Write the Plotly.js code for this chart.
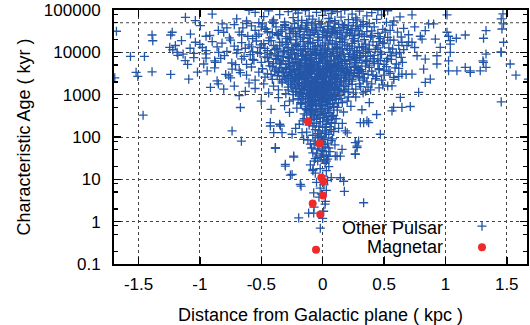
<!DOCTYPE html>
<html>
<head>
<meta charset="utf-8">
<script src="https://cdn.plot.ly/plotly-3.0.1.min.js"></script>
<style>
html,body{margin:0;padding:0;background:#fff;}
#chart{width:530px;height:325px;}
</style>
</head>
<body>
<div id="chart"></div>
<script>
// ---------------- DATA ----------------
// Magnetars: distance from Galactic plane (kpc) and characteristic age (kyr)
const magnetarZ   = [-0.119, -0.024, -0.011, 0.006, 0.003, -0.081, -0.019, -0.054];
const magnetarAge = [232, 70, 11, 9, 4.15, 2.7, 1.47, 0.218];

// Other pulsars: sparse outer left region
const outerLeftZ   = [-1.68,-1.694,-1.566,-1.452,-1.52,-1.506,-1.463,-1.39,-1.384,-1.39,-1.238,-1.246,-1.221,-1.186,-1.238,-1.118,-1.037,-1.226,-1.137,-1.091,-1.037,-1.077,-0.996,-0.969,-0.941,-0.874,-0.86,-0.914,-0.806,-0.765,-0.738,-0.819,-0.806,-0.847,-0.67,-0.738,-0.662,-0.385,-0.304,-0.236,-0.426,-0.344,
  -1.18,-1.1,-1.02,-0.98,-0.92,-0.88,-0.83,-0.79,-0.76,-0.71,-0.67,-0.64,-0.6,-0.57,-0.85,-0.72,-0.63,-0.68,-1.2,-1.12,-1.05,-0.95];
const outerLeftAge = [31500,2500,8000,8000,3360,2700,327,25700,18800,3470,25700,13100,11500,10000,3000,67000,56000,29800,9100,2330,17300,27000,42700,5300,3660,5800,2120,1480,1350,2790,4020,46800,29800,10000,498,139,80,56,22.5,35.5,182,182,
  8500,5200,3400,13000,25000,4300,7200,3000,22000,5100,3300,8000,1900,6800,1800,1600,1200,950,14500,6400,9500,7300];

// Other pulsars: sparse outer right region
const outerRightZ   = [0.728,1.013,1.469,1.455,1.461,1.474,1.455,1.331,1.311,1.331,1.311,1.331,1.284,1.528,1.575,1.677,1.455,1.162,1.089,1.026,1.04,1.04,1.026,1.026,1.094,1.162,1.203,0.958,0.931,0.931,0.877,0.918,0.836,0.863,0.904,0.796,0.81,0.728,0.687,0.646,0.627,0.769,0.836,0.823,0.728,0.646,0.578,0.565,0.782,0.836,0.633,0.578,0.714,0.646,0.565,0.47,0.334,0.375,0.293,0.28,0.266,0.185,0.144,
  1.013,1.04,1.474,1.453,1.306,1.203,0.35,0.42,0.47,0.52,0.38,0.44,0.49,0.55,0.6,0.4,0.46,0.51,0.33,0.37,0.53,0.57];
const outerRightAge = [76600,76600,81000,61500,35600,17300,10000,32500,21500,9100,5800,4400,3660,5300,2900,2330,675,25700,21500,24000,15700,10000,6300,3660,3660,4400,3360,13100,8300,5300,2330,20600,32500,46800,46800,24000,20600,17300,14500,17300,10000,8300,6900,4020,3060,3060,2560,1620,1130,1950,860,500,525,500,413,116,219,219,80,56,39,139,35.5,
  29800,19000,46800,10200,6300,3660,12000,8500,6400,4600,5000,2700,1700,3200,9200,25000,18000,30000,3200,1500,7200,12000];

// Other pulsars: oldest band (50 000 - 100 000 kyr)
const topZ   = [-0.70,-0.62,-0.55,-0.48,-0.44,-0.40,-0.35,-0.31,-0.28,-0.24,-0.20,-0.17,-0.14,-0.11,-0.08,-0.05,-0.03,0.0,0.02,0.05,0.07,0.10,0.12,0.15,0.18,0.21,0.24,0.27,0.30,0.33,0.36,0.40,0.44,0.48,0.53,0.58,0.63,-0.60,-0.90,-0.52,0.08,-0.22,0.45,-0.13,0.25];
const topAge = [62000,55000,88000,70000,95000,58000,78000,52000,92000,66000,85000,57000,97000,72000,61000,88000,54000,75000,96000,63000,83000,56000,91000,68000,99000,59000,80000,65000,94000,53000,73000,87000,60000,77000,96000,55000,69000,98000,80000,50000,99000,99000,99000,51000,50500];

// Other pulsars: 20 000 - 50 000 kyr
const upperZ   = [-0.72,-0.68,-0.65,-0.61,-0.58,-0.55,-0.52,-0.49,-0.46,-0.43,-0.41,-0.38,-0.36,-0.33,-0.31,-0.29,-0.27,-0.25,-0.23,-0.21,-0.19,-0.17,-0.15,-0.13,-0.11,-0.09,-0.07,-0.05,-0.03,-0.01,0.01,0.03,0.05,0.07,0.09,0.11,0.13,0.15,0.17,0.19,0.21,0.23,0.25,0.27,0.30,0.33,0.36,0.39,0.42,0.45,0.49,0.53,0.57,0.61,0.66,0.70,-0.85,-0.95,-0.78,-0.62,-0.12,0.10,0.38,-0.4,0.75,-0.57,-0.08,0.04,-0.18,0.2,-0.3,0.28];
const upperAge = [45000,30000,38000,24000,42000,33000,27000,47000,36000,22000,29000,40000,25000,34000,45000,21000,28000,37000,48000,24000,31000,42000,26000,35000,21500,44000,29000,38000,23000,47000,32000,25000,41000,28000,36000,22000,46000,30000,39000,25500,43000,33000,21000,37000,27000,45000,31000,23000,40000,28000,35000,22500,44000,30000,37000,26000,33000,24000,38000,48000,49000,49000,48000,48500,40000,21000,33000,35500,36000,29000,39000,42000];

// Other pulsars: 10 000 - 20 000 kyr
const band4Z   = [-1.15,-1.08,-1.0,-0.95,-0.9,-0.86,-0.82,-0.78,-0.75,-0.72,-0.69,-0.66,-0.63,-0.6,-0.57,-0.54,-0.51,-0.48,-0.45,-0.42,-0.40,-0.37,-0.35,-0.32,-0.30,-0.28,-0.26,-0.24,-0.22,-0.20,-0.18,-0.16,-0.14,-0.12,-0.10,-0.08,-0.06,-0.04,-0.02,0.0,0.02,0.04,0.06,0.08,0.10,0.12,0.14,0.16,0.18,0.20,0.22,0.24,0.26,0.29,0.32,0.35,0.38,0.41,0.44,0.47,0.50,0.54,0.58,0.62,0.66,0.70,0.75,0.55,-0.05];
const band4Age = [19000,12500,15500,11000,18000,13500,16500,10500,19500,14000,11500,17000,12500,15000,10200,18500,13000,16000,11000,19000,14500,12000,17500,10500,15500,13000,19800,11500,16500,13800,10800,18200,12200,15800,10400,17200,13400,19200,11200,14800,16800,12000,18800,10600,15200,13200,17800,11400,19600,14200,12400,16200,10900,18400,13600,15600,11800,17600,14400,10300,16600,12800,19400,14600,11600,17400,13000,10000,10100];

// Other pulsars: 5 000 - 10 000 kyr
const band3Z   = [-1.05,-0.95,-0.88,-0.8,-0.74,-0.70,-0.66,-0.62,-0.59,-0.56,-0.53,-0.50,-0.47,-0.44,-0.42,-0.40,-0.38,-0.36,-0.34,-0.32,-0.30,-0.28,-0.26,-0.24,-0.22,-0.20,-0.19,-0.17,-0.15,-0.14,-0.12,-0.11,-0.09,-0.08,-0.06,-0.05,-0.03,-0.02,0.0,0.01,0.03,0.04,0.06,0.07,0.09,0.10,0.12,0.14,0.15,0.17,0.19,0.21,0.23,0.25,0.27,0.30,0.33,0.36,0.39,0.42,0.45,0.48,0.52,0.56,0.60,0.64,-0.25,-0.13,0.02,0.11,-0.07,0.18,-0.35,0.28];
const band3Age = [7500,9200,6300,8400,5600,9600,7000,5200,8800,6500,9900,5800,7800,6000,9300,5400,7200,8600,6200,9700,5100,7600,8900,5700,6800,9400,5300,8100,6600,9000,5500,7400,8500,6100,9800,5900,7100,8300,6400,9100,5600,7700,8700,6300,9500,5200,7300,8200,6000,9200,5400,7900,6700,8800,5800,7500,9400,6100,8000,5500,7000,9000,6200,8300,5300,7600,7300,7700,6900,8100,5200,6500,5600,9900];

// Other pulsars: 2 000 - 5 000 kyr
const band2Z   = [-0.75,-0.68,-0.62,-0.58,-0.55,-0.52,-0.49,-0.47,-0.45,-0.43,-0.41,-0.39,-0.37,-0.35,-0.33,-0.32,-0.30,-0.29,-0.27,-0.26,-0.24,-0.23,-0.21,-0.20,-0.19,-0.17,-0.16,-0.15,-0.14,-0.13,-0.12,-0.11,-0.10,-0.09,-0.08,-0.07,-0.06,-0.05,-0.04,-0.03,-0.02,-0.01,0.0,0.01,0.02,0.03,0.04,0.05,0.06,0.07,0.08,0.09,0.10,0.11,0.12,0.13,0.14,0.15,0.16,0.18,0.19,0.20,0.22,0.23,0.25,0.26,0.28,0.30,0.31,0.33,0.35,0.37,0.40,0.43,0.46,0.50,0.54,0.58,0.62,0.68,-0.25,-0.18,-0.12,-0.06,0.0,0.05,0.10,0.17,-0.22,-0.09,0.08,0.21,-0.36,0.29,-0.03,0.03,-0.15,0.13,-0.28,0.24];
const band2Age = [2500,3800,2900,4500,2200,3400,4100,2600,3100,4800,2300,3600,2800,4300,2100,3300,3900,2500,4600,3000,2200,3700,4200,2700,3200,4900,2400,3500,4000,2900,2100,4400,3300,2600,3800,4700,2300,3100,4100,2800,3600,2000,4500,3000,2500,3900,4800,2200,3400,2700,4200,3200,2400,3700,4600,2900,2100,3500,4300,2600,3100,4000,2300,3800,2800,4400,3300,2500,3900,2200,4700,3000,3600,2400,4100,2900,3500,2300,4200,3000,3500,2900,3900,2600,3300,4000,2900,3600,2500,4600,2100,3300,3300,4100,2300,3600,2300,4100,2800,2300];

// Other pulsars: 1 000 - 2 000 kyr
const band1Z   = [-0.55,-0.48,-0.44,-0.40,-0.36,-0.33,-0.30,-0.28,-0.26,-0.24,-0.22,-0.20,-0.18,-0.17,-0.15,-0.14,-0.12,-0.11,-0.10,-0.08,-0.07,-0.06,-0.05,-0.04,-0.03,-0.02,-0.01,0.0,0.01,0.02,0.03,0.04,0.05,0.06,0.07,0.08,0.09,0.10,0.12,0.13,0.15,0.17,0.19,0.21,0.24,0.27,0.31,0.35,0.40,0.46,-0.09,0.04,-0.16,0.11,-0.01];
const band1Age = [1400,1800,1100,1600,1300,1900,1050,1500,1750,1200,1400,1950,1100,1650,1300,1850,1000,1550,1250,1700,1150,1450,1900,1050,1600,1350,1800,1200,1500,1950,1100,1650,1300,1850,1000,1550,1250,1750,1400,1100,1900,1300,1600,1150,1750,1350,1550,1200,1800,1450,1450,1400,1500,1600,1050];

// Other pulsars: 300 - 1 000 kyr
const band0Z   = [-0.50,-0.42,-0.36,-0.31,-0.27,-0.24,-0.21,-0.19,-0.17,-0.15,-0.14,-0.12,-0.11,-0.10,-0.09,-0.08,-0.07,-0.06,-0.05,-0.04,-0.03,-0.02,-0.01,0.0,0.01,0.02,0.03,0.04,0.05,0.06,0.07,0.08,0.09,0.10,0.12,0.13,0.15,0.17,0.20,0.23,0.27,0.32,0.38,0.44,-0.08,0.02,-0.13];
const band0Age = [700,450,850,550,380,750,480,920,620,350,800,520,680,420,950,580,330,720,460,860,600,400,780,540,990,360,660,470,830,590,310,740,500,900,430,640,820,390,700,530,880,440,650,340,870,830,440];

// Other pulsars: extra points filling the dense central cone
const coreZ = [-0.37,-0.34,-0.3,-0.26,-0.22,-0.2,-0.16,-0.12,-0.1,-0.06,-0.04,-0.02,0.0,0.02,0.04,0.06,0.08,0.1,0.12,0.14,0.16,0.18,0.22,0.24,0.26,0.29,0.31,0.34,-0.45,-0.5,0.47,0.55,-0.66,0.64,
  -0.39,-0.37,-0.35,-0.33,-0.31,-0.29,-0.27,-0.25,-0.23,-0.21,-0.2,-0.18,-0.16,-0.15,-0.13,-0.12,-0.1,-0.09,-0.07,-0.06,-0.04,-0.03,-0.01,0.0,0.02,0.03,0.05,0.06,0.08,0.09,0.11,0.13,0.14,0.16,0.18,0.2,0.22,0.24,0.26,0.28,0.31,0.33,-0.43,-0.47,0.37,0.41,-0.51,0.45,-0.28,0.12,
  -0.31,-0.3,-0.28,-0.27,-0.25,-0.24,-0.23,-0.22,-0.21,-0.2,-0.19,-0.18,-0.17,-0.16,-0.15,-0.14,-0.13,-0.12,-0.11,-0.1,-0.09,-0.08,-0.07,-0.06,-0.05,-0.04,-0.03,-0.02,-0.01,0.0,0.0,0.01,0.02,0.03,0.04,0.05,0.06,0.07,0.08,0.09,0.1,0.11,0.12,0.13,0.14,0.15,0.16,0.17,0.18,0.19,0.2,0.21,0.22,0.23,0.24,0.26,0.27,-0.33,-0.35,-0.38,0.29,0.32,-0.42,0.36,-0.02,0.06,-0.1,-0.19,0.14,-0.26,
  -0.21,-0.2,-0.19,-0.18,-0.17,-0.16,-0.15,-0.14,-0.13,-0.12,-0.11,-0.1,-0.09,-0.09,-0.08,-0.07,-0.06,-0.05,-0.05,-0.04,-0.03,-0.02,-0.02,-0.01,0.0,0.0,0.01,0.02,0.03,0.04,0.05,0.06,0.07,0.08,0.09,0.1,0.11,0.12,0.14,0.16,0.18,0.21,-0.24,-0.27,0.25,
  -0.13,-0.11,-0.1,-0.09,-0.08,-0.07,-0.06,-0.05,-0.04,-0.03,-0.02,-0.01,0.0,0.01,0.02,0.03,0.04,0.05,0.06,0.07,0.09,-0.15,0.1,-0.02,0.03,
  -0.08,-0.06,-0.04,-0.03,-0.01,0.0,0.01,0.02,0.04,0.05,-0.1,0.07];
const coreAge = [26000,31000,23500,34000,27500,39000,22500,30500,25000,33500,26500,39500,22000,29500,41000,24500,31500,38500,27000,33000,23000,44000,28500,36000,25000,32000,40500,24000,31000,40000,21000,33000,26000,23000,
  11500,8200,14200,6400,10800,17300,7100,12600,9100,15400,6000,11200,8500,13800,7000,10500,16400,6700,12000,8800,14600,5600,10000,7700,12800,9300,15800,6200,11700,8100,13500,7300,10300,17000,6800,12300,9000,14000,7400,11000,8300,13300,8700,12400,10600,7100,9400,12700,5400,5500,
  2700,4200,1900,3400,2400,4700,1700,3000,2200,3800,1600,4400,2600,3300,1800,2900,4500,2400,3600,1700,3100,2200,4000,1900,3500,2600,4800,1600,3000,2300,3900,1800,3300,2600,4300,1700,2900,3700,2300,4900,1900,3100,2500,3500,1700,2800,4100,2100,3400,2500,4500,1800,2900,3700,2100,3200,4800,3600,2300,4000,2700,3500,3000,2000,2800,4600,4800,2800,4900,3900,
  1200,800,1400,650,1050,900,1250,600,1100,750,1350,950,550,1150,700,1300,850,1050,620,1450,780,1100,560,930,1350,680,1150,820,1400,600,1000,730,1250,880,530,1100,770,1300,950,650,1200,880,1000,700,1100,
  330,420,250,370,180,300,450,210,340,140,280,400,230,350,170,310,480,260,380,150,320,270,210,120,125,
  42,80,52,100,36,66,45,95,30,55,68,82];

// Other pulsars: second set of points in the dense central cone and right-hand cluster
const coreBZ = [-0.18,-0.16,-0.14,-0.12,-0.1,-0.08,-0.07,-0.05,-0.04,-0.02,-0.01,0.01,0.02,0.04,0.05,0.07,0.08,0.1,0.12,-0.03,
  -0.28,-0.26,-0.25,-0.23,-0.22,-0.2,-0.19,-0.17,-0.16,-0.14,-0.13,-0.12,-0.11,-0.1,-0.09,-0.08,-0.07,-0.06,-0.05,-0.04,-0.03,-0.02,-0.01,0.0,0.01,0.02,0.03,0.04,0.05,0.06,0.07,0.08,0.1,0.11,0.13,0.15,0.17,0.19,0.21,-0.3,
  -0.41,-0.38,-0.36,-0.34,-0.32,-0.3,-0.28,-0.26,-0.25,-0.23,-0.21,-0.2,-0.18,-0.17,-0.15,-0.14,-0.12,-0.11,-0.1,-0.08,-0.07,-0.05,-0.04,-0.02,-0.01,0.01,0.02,0.04,0.05,0.07,0.08,0.1,0.11,0.13,0.15,0.16,0.18,0.2,0.22,0.24,0.26,0.28,0.3,0.32,0.35,0.38,0.42,0.46,-0.45,0.5,
  -0.54,-0.5,-0.47,-0.44,-0.41,-0.38,-0.36,-0.33,-0.31,-0.29,-0.27,-0.24,-0.22,-0.2,-0.18,-0.16,-0.14,-0.12,-0.1,-0.08,-0.06,-0.04,-0.02,0.0,0.02,0.04,0.06,0.08,0.1,0.12,0.14,0.16,0.18,0.2,0.22,0.24,0.26,0.28,0.3,0.32,0.34,0.36,0.38,0.4,0.43,0.46,0.49,0.52,0.55,-0.58,
  0.3,0.34,0.36,0.39,0.41,0.45,0.48,0.5,0.53,0.56,0.59,0.62,0.65,0.27,0.33];
const coreBAge = [600,820,470,900,640,410,760,540,980,690,450,850,580,720,430,960,610,790,500,330,
  1300,2100,1600,2700,1150,1800,2400,1350,2900,1600,2000,1250,2600,1500,2150,1050,1750,2450,1300,2000,1550,2750,1200,1900,2500,1400,2100,1150,1700,2600,1350,1950,1500,2300,1250,2050,1600,2500,1350,2350,
  4600,6800,3600,5300,8000,4400,6200,3300,9000,5000,7000,3900,5600,8300,4700,6500,3400,5200,7600,4300,6000,9300,3700,5500,7300,4100,6300,3500,5100,8000,4500,6600,3800,5700,8700,4200,6100,3500,5300,7800,4600,6500,3700,5600,8200,4400,6000,3900,7500,5200,
  24000,15000,35000,19000,52000,12500,28000,17000,43000,11000,22000,31000,14500,56000,20500,12000,38000,17500,26000,11500,47000,19500,14000,32000,10800,23000,54000,16500,29000,12300,21000,45000,15000,35000,11200,25000,18500,58000,13000,27000,20000,41000,14800,32000,11800,23500,16000,51000,19500,13500,
  1800,2500,6500,1300,2900,5400,2200,3800,1600,6800,4300,2700,5800,7200,1100];

// Other pulsars: young tail (below 300 kyr)
const tailZ   = [-0.22,-0.16,-0.13,-0.11,-0.09,-0.08,-0.07,-0.06,-0.05,-0.04,-0.03,-0.02,-0.01,0.0,0.01,0.02,0.03,0.04,0.05,0.06,0.07,0.09,0.11,0.13,0.16,0.20,-0.19,0.08,
  -0.12,-0.09,-0.07,-0.05,-0.04,-0.03,-0.02,-0.01,0.0,0.01,0.02,0.03,0.04,0.06,0.08,0.10,-0.06,0.05,
  -0.10,-0.06,-0.04,-0.02,0.0,0.02,0.03,0.05,0.07,-0.08,0.01,
  -0.05,-0.02,0.01,0.03,-0.03,0.02,-0.01,0.04,-0.07,0.0,
  -0.385,-0.236,-0.304,-0.263,-0.176,-0.078,-0.068,0.03,0.117,0.144,0.177,0.171,0.334,0.266,0.28,0.266,0.307,0.361,-0.426,-0.35,-0.331,-0.249,-0.168,-0.155,-0.399,0.103,0.158,-0.019,-0.114,-0.073,-0.195,-0.182,-0.249,-0.073,0.022,0.008];
const tailAge = [160,240,130,190,280,110,210,150,260,120,180,230,105,170,290,140,200,250,115,175,220,135,270,160,210,125,200,300,
  85,55,70,40,95,62,33,78,48,88,58,38,72,45,90,65,31,35,
  22,14,27,18,12,24,16,20,11,16,29,
  8.5,6.2,7.4,5.5,3.8,2.6,4.5,9.5,2.2,1.2,
  54,33.6,20.6,12.6,6.9,17.2,27,27,35.5,10.9,5.2,9,2.8,74,61,40,219,240,219,200,127,116,127,88,127,35.5,51,0.7,1.6,1.6,1.23,7.6,13,4.8,3.0,1.76];

// Axis tick labels
const xTickVals = [-1.5, -1, -0.5, 0, 0.5, 1, 1.5];
const xTickText = ['-1.5', '-1', '-0.5', '0', '0.5', '1', '1.5'];
const yTickVals = [0.1, 1, 10, 100, 1000, 10000, 100000];
const yTickText = ['0.1', '1', '10', '100', '1000', '10000', '100000'];

// ---------------- BUILD ----------------
const pulsarZ = [].concat(outerLeftZ, outerRightZ, topZ, upperZ, band4Z, band3Z, band2Z, band1Z, band0Z, coreZ, coreBZ, tailZ);
const pulsarAge = [].concat(outerLeftAge, outerRightAge, topAge, upperAge, band4Age, band3Age, band2Age, band1Age, band0Age, coreAge, coreBAge, tailAge);

const minorVals = [];
[0.1, 1, 10, 100, 1000, 10000].forEach(d => { [2, 5, 8].forEach(m => minorVals.push(d * m)); });

const blue = '#2456a8';
const red = '#ee2b2b';
const FONT = 'Liberation Sans, Arial, Helvetica, sans-serif';

const traces = [
  {
    x: pulsarZ, y: pulsarAge, type: 'scatter', mode: 'markers', name: '',
    marker: { symbol: 'cross-thin-open', size: 6.5, color: blue, line: { color: blue, width: 1.3 } },
    cliponaxis: true, hoverinfo: 'skip'
  },
  {
    x: magnetarZ, y: magnetarAge, type: 'scatter', mode: 'markers', name: '',
    marker: { symbol: 'circle', size: 8, color: red, line: { width: 0 } },
    hoverinfo: 'skip'
  }
];

const axisCommon = {
  showline: true, linecolor: '#000', linewidth: 2, mirror: 'allticks',
  ticks: 'inside', ticklen: 7, tickwidth: 1.5, tickcolor: '#000',
  showgrid: true, gridcolor: '#444', griddash: 'dot', gridwidth: 1,
  zeroline: false, automargin: false,
  tickfont: { family: FONT, size: 17, color: '#000' }
};

const layout = {
  width: 530, height: 325,
  margin: { l: 114, r: 3, t: 10, b: 61 },
  paper_bgcolor: '#fff', plot_bgcolor: '#fff',
  font: { family: FONT, color: '#000' },
  showlegend: true,
  legend: {
    x: 0.8426, y: 0.2105, xanchor: 'left', yanchor: 'top',
    bgcolor: 'rgba(0,0,0,0)', borderwidth: 0, font: { size: 14 },
    tracegroupgap: 0
  },
  xaxis: Object.assign({}, axisCommon, {
    range: [-1.70, 1.665], tickmode: 'array', tickvals: xTickVals, ticktext: xTickText,
    ticklabelstandoff: 4,
    title: { text: 'Distance from Galactic plane ( kpc )', font: { family: FONT, size: 18 }, standoff: 16 }
  }),
  yaxis: Object.assign({}, axisCommon, {
    type: 'log', range: [-1, 5], tickmode: 'array', tickvals: yTickVals, ticktext: yTickText,
    ticklabelstandoff: 8,
    minor: { tickmode: 'array', tickvals: minorVals, ticks: 'inside', ticklen: 4, tickwidth: 1.2, tickcolor: '#000', showgrid: false },
    title: { text: 'Characteristic Age ( kyr )', font: { family: FONT, size: 18 }, standoff: 9 }
  }),
  shapes: [
    { type: 'line', xref: 'paper', x0: 0, x1: 1, yref: 'y', y0: 50000, y1: 50000,
      line: { color: '#444', width: 1, dash: 'dot' }, layer: 'below' },
    { type: 'rect', xref: 'paper', x0: 0.47, x1: 1, yref: 'paper', y0: 0, y1: 0.178,
      fillcolor: '#fff', line: { width: 0 }, layer: 'between' }
  ],
  annotations: [
    { text: 'Other Pulsar', xref: 'paper', yref: 'paper', x: 0.8015, y: 0.142, xanchor: 'right', yanchor: 'middle',
      showarrow: false, font: { family: FONT, size: 18, color: '#000' } },
    { text: 'Magnetar', xref: 'paper', yref: 'paper', x: 0.8015, y: 0.067, xanchor: 'right', yanchor: 'middle',
      showarrow: false, font: { family: FONT, size: 18, color: '#000' } }
  ]
};

Plotly.newPlot('chart', traces, layout, { staticPlot: true, displayModeBar: false });
</script>
</body>
</html>
